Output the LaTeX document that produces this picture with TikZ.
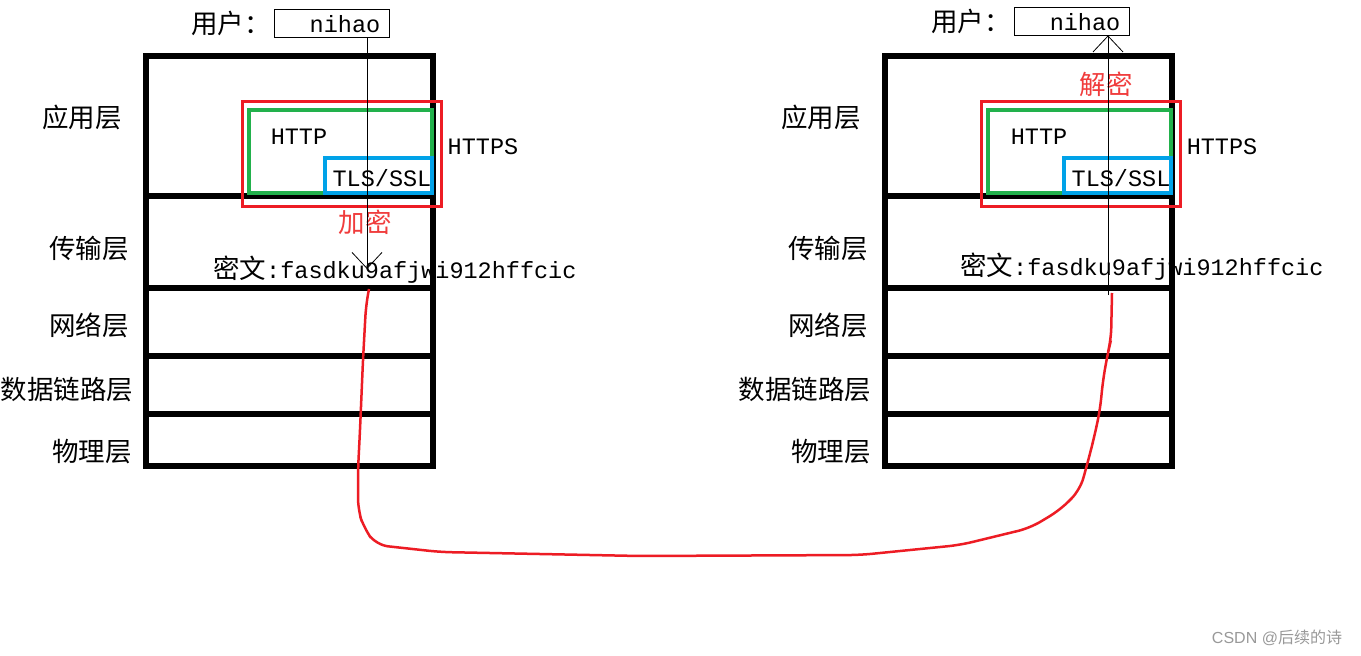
\documentclass[tikz,border=0pt]{standalone}
\usepackage{fontspec}
\usetikzlibrary{arrows.meta}
\newfontfamily\cjk{Noto Sans CJK SC}
\newfontfamily\mono{Liberation Mono}
\newfontfamily\wm{Liberation Sans}
\definecolor{myred}{RGB}{237,28,36}
\definecolor{mygreen}{RGB}{34,177,76}
\definecolor{myblue}{RGB}{0,162,232}
\definecolor{txtred}{RGB}{240,60,60}
\begin{document}
\begin{tikzpicture}[x=1pt,y=-1pt,
  stackline/.style={line width=5.5pt},
  cjktxt/.style={font=\cjk\fontsize{26.5}{28}\selectfont, inner sep=0pt},
  monotxt/.style={font=\mono\fontsize{23.5}{26}\selectfont, inner sep=0pt},
  redbox/.style={draw=myred, line width=3pt},
  greenbox/.style={draw=mygreen, line width=4pt},
  bluebox/.style={draw=myblue, line width=4pt},
  userbox/.style={draw, line width=0.8pt, minimum width=115pt, minimum height=28pt, inner sep=0pt},
  flow/.style={line width=0.8pt, -{Straight Barb[length=16pt,width=30pt,line width=0.8pt]}},
  wire/.style={draw=myred, line width=2.5pt}
]
\useasboundingbox (0,0) rectangle (1361,656);
\fill[white] (0,0) rectangle (1361,656);

% ---------- left stack ----------
\draw[stackline] (146,56) rectangle (433,466);
\foreach \yy in {196,288,356,414} \draw[stackline] (146,\yy) -- (433,\yy);
\node[cjktxt] (appL) at (82,117) {应用层};
\node[cjktxt] (trL) at (89,249) {传输层};
\node[cjktxt] (netL) at (89,325) {网络层};
\node[cjktxt] (dlL) at (67,390) {数据链路层};
\node[cjktxt] (phL) at (92,452) {物理层};

\draw[redbox] (242,101) rectangle (441,206);
\draw[greenbox] (249,110) rectangle (432,193);
\draw[bluebox] (325,158) rectangle (432,193);
\node[monotxt] (httpL) at (299,137) {HTTP};
\node[monotxt] (tlsL) at (382,178) {TLS/SSL};
\node[monotxt] (httpsL) at (483,147) {HTTPS};

\node[cjktxt, anchor=west] (userL) at (191,23) {用户：};
\node[userbox] (boxL) at (331.5,23) {};
\node[monotxt] (nihaoL) at (345,24) {nihao};
\node[cjktxt, text=txtred] (encL) at (365,222) {加密};
\node[inner sep=0pt, anchor=west] (cipherL) at (213,270) {\cjk\fontsize{26.5}{28}\selectfont 密文\mono\fontsize{23.5}{26}\selectfont :fasdku9afjwi912hffcic};
\coordinate (tipL) at (367,269);
\draw[flow] (boxL.south -| tipL) -- (tipL);

% ---------- right stack ----------
\draw[stackline] (885,56) rectangle (1172,466);
\foreach \yy in {196,288,356,414} \draw[stackline] (885,\yy) -- (1172,\yy);
\node[cjktxt] (appR) at (821,117) {应用层};
\node[cjktxt] (trR) at (828,249) {传输层};
\node[cjktxt] (netR) at (828,325) {网络层};
\node[cjktxt] (dlR) at (805,390) {数据链路层};
\node[cjktxt] (phR) at (831,452) {物理层};

\draw[redbox] (981,101) rectangle (1180,206);
\draw[greenbox] (988,110) rectangle (1171,193);
\draw[bluebox] (1064,158) rectangle (1171,193);
\node[monotxt] (httpR) at (1039,137) {HTTP};
\node[monotxt] (tlsR) at (1121,178) {TLS/SSL};
\node[monotxt] (httpsR) at (1222,147) {HTTPS};

\node[cjktxt, anchor=west] (userR) at (931,21) {用户：};
\node[userbox] (boxR) at (1071.5,21) {};
\node[monotxt] (nihaoR) at (1085,22) {nihao};
\node[cjktxt, text=txtred] (decR) at (1106,84) {解密};
\node[inner sep=0pt, anchor=west] (cipherR) at (960,267) {\cjk\fontsize{26.5}{28}\selectfont 密文\mono\fontsize{23.5}{26}\selectfont :fasdku9afjwi912hffcic};
\coordinate (startR) at (1108,295);
\draw[flow] (startR) -- (boxR.south -| startR);

% ---------- red wire ----------
\coordinate (wA) at (369,289);
\coordinate (wB) at (1112,293);
\draw[wire, rounded corners=12pt] (wA) -- (366,305) -- (363,360) -- (360,430) -- (358,470) -- (358,510) -- (364,528) -- (376,545) -- (440,552) -- (640,556) -- (860,555) -- (960,545) -- (1030,528) -- (1060,510) -- (1080,490) -- (1087,465) -- (1094,438) -- (1100,410) -- (1103,380) -- (1108,352) -- (1111,340) -- (wB);

% watermark
\node[font=\wm\fontsize{16}{18}\selectfont, text=black!40, inner sep=0pt] (wmk) at (1277,638) {CSDN @\cjk 后续的诗};
\end{tikzpicture}
\end{document}
